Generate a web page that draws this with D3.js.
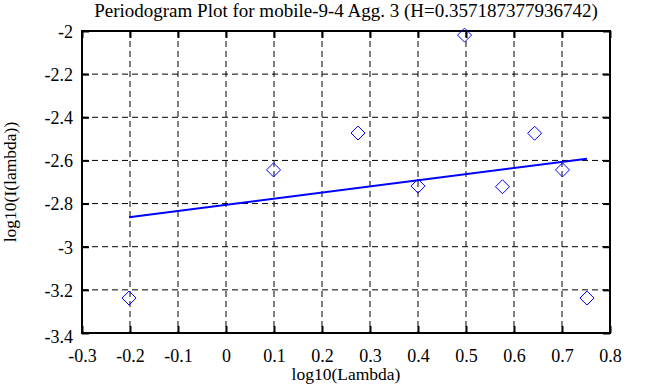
<!DOCTYPE html>
<html>
<head>
<meta charset="utf-8">
<script src="https://cdn.jsdelivr.net/npm/d3@7"></script>
<style>
  body { margin: 0; background: #fff; }
  svg text { font-family: "Liberation Serif", "Times New Roman", serif; fill: #000; }
</style>
</head>
<body>
<svg id="chart" width="653" height="387"></svg>
<script>
// periodogram points (log10 of frequency vs log10 of power)
const logLambda = [-0.202, 0.099, 0.275, 0.400, 0.497, 0.576, 0.643, 0.701, 0.752];
const logPower = [-3.238, -2.644, -2.473, -2.719, -2.019, -2.722, -2.474, -2.644, -3.238];
// least squares fit line end points
const fitX = [-0.202, 0.752];
const fitY = [-2.863, -2.592];
const xTicks = [-0.3, -0.2, -0.1, 0, 0.1, 0.2, 0.3, 0.4, 0.5, 0.6, 0.7, 0.8];
const yTicks = [-2, -2.2, -2.4, -2.6, -2.8, -3, -3.2, -3.4];

const serif = '"Liberation Serif", "Times New Roman", serif';
const margin = { top: 31, right: 43, bottom: 54, left: 82 };
const width = 653 - margin.left - margin.right;
const height = 387 - margin.top - margin.bottom;

const svg = d3.select('svg#chart');
const g = svg.append('g')
  .attr('transform', `translate(${margin.left},${margin.top})`);

const xScale = d3.scaleLinear().domain([-0.3, 0.8]).range([0, width]);
const yScale = d3.scaleLinear().domain([-3.4, -2]).range([height, 0]);

// dashed grid
g.append('g').selectAll('line.vgrid')
  .data(xTicks.slice(1, -1))
  .enter().append('line')
  .attr('x1', d => xScale(d)).attr('x2', d => xScale(d))
  .attr('y1', 0).attr('y2', height)
  .attr('stroke', '#000').attr('stroke-width', 1)
  .attr('stroke-dasharray', '6,4');

g.append('g').selectAll('line.hgrid')
  .data(yTicks.slice(1, -1))
  .enter().append('line')
  .attr('y1', d => yScale(d)).attr('y2', d => yScale(d))
  .attr('x1', 0).attr('x2', width)
  .attr('stroke', '#000').attr('stroke-width', 1)
  .attr('stroke-dasharray', '6,4');

// axes, ticks pointing inward on all four sides
const fmt = d => String(+d.toFixed(1)); // plain hyphen minus like the original
const xAxis = d3.axisBottom(xScale).tickValues(xTicks).tickSizeInner(-7).tickSizeOuter(0).tickPadding(16).tickFormat(fmt);
const yAxis = d3.axisLeft(yScale).tickValues(yTicks).tickSizeInner(-7).tickSizeOuter(0).tickPadding(16).tickFormat(fmt);

const xAxisG = g.append('g').attr('transform', `translate(0,${height})`).call(xAxis);
const yAxisG = g.append('g').call(yAxis);
g.append('g').call(d3.axisTop(xScale).tickValues(xTicks).tickSizeInner(-7).tickSizeOuter(0).tickFormat(''));
g.append('g').attr('transform', `translate(${width},0)`)
  .call(d3.axisRight(yScale).tickValues(yTicks).tickSizeInner(-7).tickSizeOuter(0).tickFormat(''));

g.selectAll('.domain').remove();
g.selectAll('.tick line').attr('stroke', '#000').attr('stroke-width', 2);
xAxisG.selectAll('text')
  .style('font-family', serif).style('font-size', '18px')
  .attr('y', 16).attr('dy', '0.71em');
yAxisG.selectAll('text')
  .style('font-family', serif).style('font-size', '18px')
  .attr('x', -9).attr('dy', '0.35em');
yAxisG.selectAll('.tick').filter(d => d === -3.4).select('text').attr('dy', '0.55em');

// border box
g.append('rect')
  .attr('width', width).attr('height', height)
  .attr('fill', 'none').attr('stroke', '#000').attr('stroke-width', 2);

// fit line
g.append('line')
  .attr('x1', xScale(fitX[0])).attr('y1', yScale(fitY[0]))
  .attr('x2', xScale(fitX[1])).attr('y2', yScale(fitY[1]))
  .attr('stroke', '#0000ff').attr('stroke-width', 2);

// diamond markers
const points = logLambda.map((x, i) => ({ x: x, y: logPower[i] }));
g.append('g').selectAll('path')
  .data(points)
  .enter().append('path')
  .attr('transform', d => `translate(${xScale(d.x)},${yScale(d.y)})`)
  .attr('d', 'M0,-7L7,0L0,7L-7,0Z')
  .attr('fill', 'none').attr('stroke', '#0000ff').attr('stroke-width', 1);

// titles
svg.append('text')
  .attr('x', margin.left + width / 2).attr('y', 17)
  .attr('text-anchor', 'middle').style('font-size', '19px')
  .text('Periodogram Plot for mobile-9-4 Agg. 3 (H=0.357187377936742)');

svg.append('text')
  .attr('x', margin.left + width / 2).attr('y', 380)
  .attr('text-anchor', 'middle').style('font-size', '17.5px')
  .text('log10(Lambda)');

svg.append('text')
  .attr('transform', `translate(16,${margin.top + height / 2}) rotate(-90)`)
  .attr('text-anchor', 'middle').style('font-size', '17.5px')
  .text('log10(I(lambda))');
</script>
</body>
</html>
